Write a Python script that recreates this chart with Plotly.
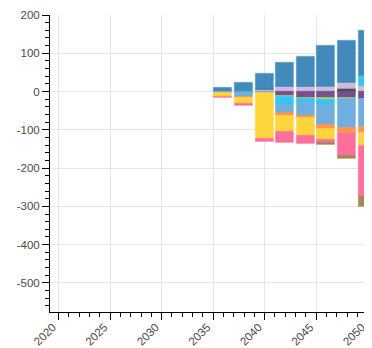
import plotly.graph_objects as go

years = [2036, 2038, 2040, 2042, 2044, 2046, 2048, 2050]

dark_gray = [0, 0, 0, 0, 0, 0, 7, 0]
lavender = [1, 2, 3, 13, 12, 13, 15, 11.5]
purple = [0, -1, 0, -11.3, -16.5, -17, -15.7, -20]
green = [0, 0, 0, -2.6, -2, -4.5, -3.4, 3]
cyan = [0, -3, 0, -21, -11, -13, 0, 26]
sky_blue = [-5, -10, -3, -21.7, -34, -54, -75, -72.5]
orange = [0, -2, 0, -6.3, -5, -9.5, -16.5, -16.5]
yellow = [-9, -17, -120, -43.5, -47, -28, 0, -33]
pink = [-2, -6, -10, -28.8, -22, -8.6, -57.6, -133.5]
olive = [0, 0, 0, 0, 0, -4.5, -7, -26]
steel_blue = [8, 20, 42, 61, 78, 105, 109, 118]

y_tick_vals = [200, 100, 0, -100, -200, -300, -400, -500]
y_tick_labels = ["200", "100", "0", "-100", "-200", "-300", "-400", "-500"]
x_tick_vals = [2020, 2025, 2030, 2035, 2040, 2045, 2050]
x_tick_labels = ["2020", "2025", "2030", "2035", "2040", "2045", "2050"]

series = [
    ("dark gray", dark_gray, (60, 60, 60)),
    ("lavender", lavender, (200, 178, 224)),
    ("purple", purple, (104, 60, 128)),
    ("green", green, (160, 205, 110)),
    ("cyan", cyan, (34, 190, 240)),
    ("sky blue", sky_blue, (95, 165, 218)),
    ("orange", orange, (255, 138, 60)),
    ("yellow", yellow, (255, 208, 40)),
    ("pink", pink, (255, 95, 145)),
    ("olive", olive, (150, 125, 65)),
    ("steel blue", steel_blue, (45, 125, 180)),
]

fig = go.Figure()
for name, vals, (r, g, b) in series:
    fig.add_trace(go.Bar(
        x=years, y=vals, name=name, width=1.75,
        marker=dict(color=f"rgba({r},{g},{b},0.9)",
                    line=dict(color=f"rgba({r},{g},{b},0.35)", width=1.2)),
    ))

axis_font = dict(family="Liberation Sans, Arial, sans-serif", size=11.5, color="#4a4a4a")

# page body has an 8px default margin, so the figure is sized to fit the window
fig.update_layout(
    barmode="relative",
    width=364, height=340,
    margin=dict(l=42, r=0, t=7, b=36, autoexpand=False),
    paper_bgcolor="white", plot_bgcolor="white",
    showlegend=False,
    bargap=0,
)
fig.update_xaxes(
    range=[2019.16, 2050.42],
    tickvals=x_tick_vals, ticktext=x_tick_labels, tickangle=-45,
    tickfont=axis_font, automargin=False, ticklabeloverflow="allow",
    ticklabelstandoff=-4, ticklabelshift=-6,
    showline=True, linecolor="black", linewidth=1,
    ticks="outside", ticklen=7, tickcolor="black",
    showgrid=True, gridcolor="#e6e6e6", zeroline=False,
    minor=dict(dtick=1, tick0=2020, ticks="outside", ticklen=4, tickcolor="black", showgrid=False),
)
fig.update_yaxes(
    range=[-576, 200],
    tickvals=y_tick_vals, ticktext=y_tick_labels,
    tickfont=axis_font, automargin=False, ticklabeloverflow="allow",
    showline=True, linecolor="black", linewidth=1,
    ticks="outside", ticklen=7, tickcolor="black",
    showgrid=True, gridcolor="#e6e6e6", zeroline=False,
    minor=dict(dtick=20, tick0=0, ticks="outside", ticklen=4, tickcolor="black", showgrid=False),
)

fig.write_html("out.html")
